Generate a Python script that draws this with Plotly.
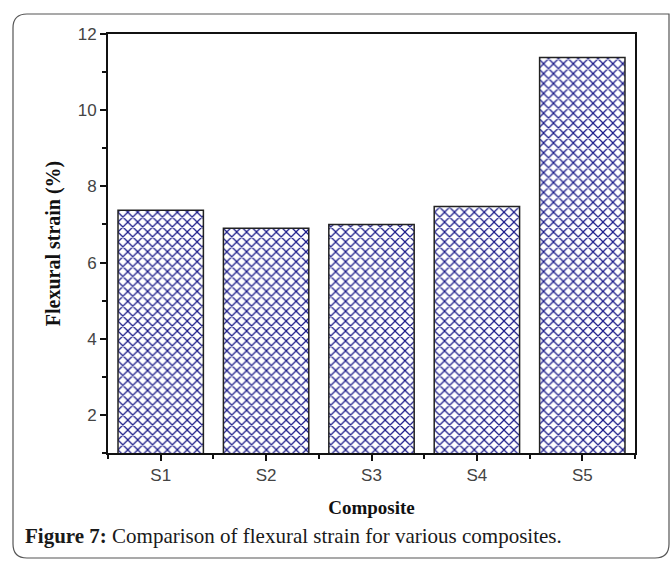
import plotly.graph_objects as go

# Flexural strain (%) of each composite
composites = ["S1", "S2", "S3", "S4", "S5"]
strain = [7.37, 6.9, 7.0, 7.47, 11.38]
positions = [1, 2, 3, 4, 5]
y_ticks = [2, 4, 6, 8, 10, 12]

W, H = 672, 561
ML, MR, MT, MB = 108, 37, 34, 108
PW, PH = W - ML - MR, H - MT - MB


def px_x(px):
    return (px - ML) / PW


def px_y(py):
    return (H - MB - py) / PH


fig = go.Figure(
    go.Bar(
        x=positions,
        y=strain,
        width=0.81,
        marker=dict(
            color="white",
            line=dict(color="#222222", width=1.5),
            pattern=dict(shape="x", fgcolor="#1c1c8a", bgcolor="white",
                         size=7, solidity=0.32, fgopacity=1),
        ),
        hoverinfo="x+y",
    )
)

sans = "Liberation Sans, Arial, sans-serif"
serif = "Liberation Serif, Times New Roman, serif"

fig.update_xaxes(
    range=[0.5, 5.5],
    tickmode="array",
    tickvals=positions,
    ticktext=composites,
    ticks="outside",
    ticklen=6,
    tickwidth=1.5,
    tickcolor="#111111",
    tickfont_family=sans,
    tickfont_size=17,
    tickfont_color="#444444",
    minor=dict(tickvals=[0.5, 1.5, 2.5, 3.5, 4.5, 5.5], ticks="outside",
               ticklen=4, tickwidth=1.5, tickcolor="#111111"),
    showline=True,
    linecolor="#111111",
    linewidth=1.8,
    mirror=True,
    showgrid=False,
    zeroline=False,
    title=dict(text="<b>Composite</b>", font=dict(family=serif, size=19, color="#111111"), standoff=16),
)
fig.update_yaxes(
    range=[1, 12],
    tickmode="array",
    tickvals=y_ticks,
    ticks="outside",
    ticklen=6,
    tickwidth=1.5,
    tickcolor="#111111",
    tickfont_family=sans,
    tickfont_size=17,
    tickfont_color="#444444",
    minor=dict(tickvals=[1, 3, 5, 7, 9, 11], ticks="outside",
               ticklen=4, tickwidth=1.5, tickcolor="#111111"),
    showline=True,
    linecolor="#111111",
    linewidth=1.8,
    mirror=True,
    showgrid=False,
    zeroline=False,
    title=dict(text="<b>Flexural strain (%)</b>", font=dict(family=serif, size=20, color="#111111"), standoff=12),
)

# Rounded frame around the figure and its caption
x0, x1 = px_x(13), px_x(669)
y0, y1 = px_y(558), px_y(14)
rx, ry = 14 / PW, 14 / PH
frame = (
    f"M {x0 + rx} {y1} L {x1} {y1} L {x1} {y0 + ry} "
    f"Q {x1} {y0} {x1 - rx} {y0} L {x0 + rx} {y0} Q {x0} {y0} {x0} {y0 + ry} "
    f"L {x0} {y1 - ry} Q {x0} {y1} {x0 + rx} {y1} Z"
)
fig.add_shape(type="path", xref="paper", yref="paper", path=frame,
              line=dict(color="#555555", width=1.2), fillcolor="rgba(0,0,0,0)",
              layer="below")

fig.add_annotation(
    xref="paper", yref="paper",
    x=px_x(23), y=px_y(536),
    xanchor="left", yanchor="middle",
    text="<b>Figure 7:</b> Comparison of flexural strain for various composites.",
    showarrow=False,
    font=dict(family=serif, size=21, color="#1a1a1a"),
)

fig.update_layout(
    width=W, height=H,
    margin=dict(l=ML, r=MR, t=MT, b=MB),
    paper_bgcolor="white",
    plot_bgcolor="white",
    showlegend=False,
    font=dict(family=sans, size=17, color="#444444"),
)

fig.write_html("out.html")
